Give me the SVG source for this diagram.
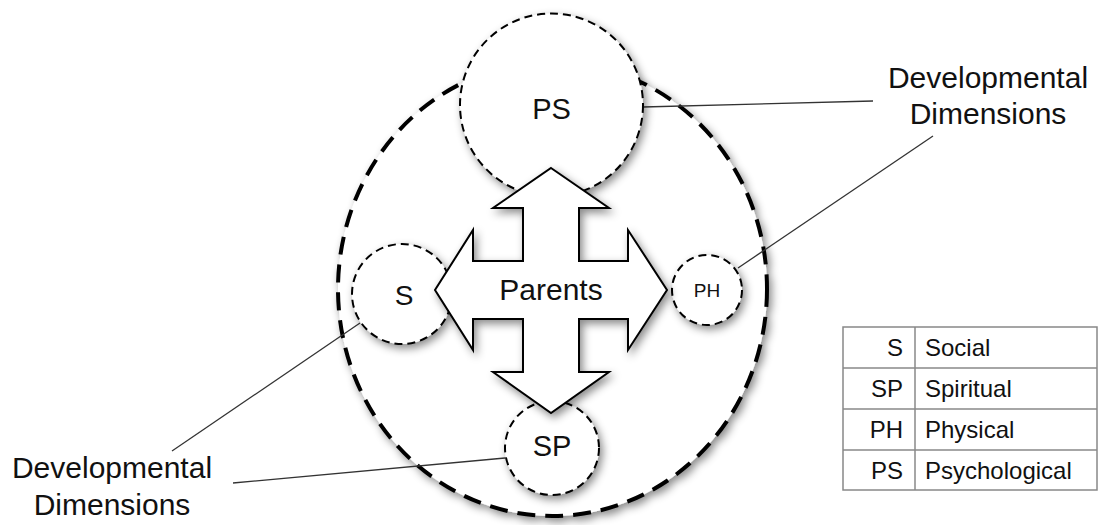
<svg xmlns="http://www.w3.org/2000/svg" width="1099" height="525" viewBox="0 0 1099 525">
  <defs>
    <filter id="sh" x="-20%" y="-20%" width="150%" height="150%">
      <feDropShadow dx="3" dy="4" stdDeviation="4" flood-color="#000" flood-opacity="0.45"/>
    </filter>
    <style>
      text { font-family: "Liberation Sans", Arial, Helvetica, sans-serif; fill: #111; }
      .big { fill: #fff; stroke: #000; stroke-width: 4; stroke-dasharray: 18 10; }
      .dim { fill: #fff; stroke: #000; stroke-width: 2; stroke-dasharray: 8 5; }
      .lead { stroke: #333; stroke-width: 1.3; fill: none; }
      .cell { fill: #fff; stroke: #888; stroke-width: 1.5; }
      .tl { font-size: 30px; text-anchor: middle; }
      .tab { font-size: 24px; }
    </style>
  </defs>
  <rect width="1099" height="525" fill="#fff"/>

  <g id="boundary">
    <ellipse class="big" cx="552.5" cy="289" rx="214.5" ry="227" filter="url(#sh)"/>
  </g>

  <g id="connectors">
    <line class="lead" x1="643" y1="107" x2="873" y2="101"/>
    <line class="lead" x1="738" y1="268" x2="933" y2="136"/>
    <line class="lead" x1="360" y1="323" x2="172" y2="451"/>
    <line class="lead" x1="505" y1="458" x2="233" y2="483"/>
  </g>

  <g id="node-PS">
    <circle class="dim" cx="551.5" cy="105" r="91.5" filter="url(#sh)"/>
    <text x="551.5" y="119" font-size="29" text-anchor="middle">PS</text>
  </g>
  <g id="node-S">
    <circle class="dim" cx="402" cy="294" r="50" filter="url(#sh)"/>
    <text x="404" y="305" font-size="28" text-anchor="middle">S</text>
  </g>
  <g id="node-PH">
    <circle class="dim" cx="707" cy="290" r="35" filter="url(#sh)"/>
    <text x="707" y="297" font-size="19" text-anchor="middle">PH</text>
  </g>
  <g id="node-SP">
    <circle class="dim" cx="552" cy="448" r="47" filter="url(#sh)"/>
    <text x="552" y="456" font-size="29" text-anchor="middle">SP</text>
  </g>

  <g id="node-parents">
    <path d="M551,168 L609,208 L579,208 L579,261 L628,261 L628,230 L667,290 L628,350 L628,319 L579,319 L579,372 L609,372 L551,413 L493,372 L523,372 L523,319 L473,319 L473,350 L435,290 L473,230 L473,261 L523,261 L523,208 L493,208 Z" fill="#fff" stroke="#000" stroke-width="2" stroke-linejoin="miter" filter="url(#sh)"/>
    <text x="551" y="300" font-size="30" text-anchor="middle">Parents</text>
  </g>

  <g id="label-top-right">
    <text class="tl" x="988" y="88">Developmental</text>
    <text class="tl" x="988" y="124">Dimensions</text>
  </g>
  <g id="label-bottom-left">
    <text class="tl" x="112" y="478">Developmental</text>
    <text class="tl" x="112" y="515">Dimensions</text>
  </g>

  <g id="legend">
    <rect class="cell" x="843" y="327" width="254" height="163"/>
    <line class="cell" x1="843" y1="368" x2="1097" y2="368"/>
    <line class="cell" x1="843" y1="409" x2="1097" y2="409"/>
    <line class="cell" x1="843" y1="450" x2="1097" y2="450"/>
    <line class="cell" x1="915" y1="327" x2="915" y2="490"/>
    <g class="tab">
      <text x="903" y="356" text-anchor="end">S</text>
      <text x="925" y="356">Social</text>
      <text x="903" y="397" text-anchor="end">SP</text>
      <text x="925" y="397">Spiritual</text>
      <text x="903" y="438" text-anchor="end">PH</text>
      <text x="925" y="438">Physical</text>
      <text x="903" y="479" text-anchor="end">PS</text>
      <text x="925" y="479">Psychological</text>
    </g>
  </g>
</svg>
